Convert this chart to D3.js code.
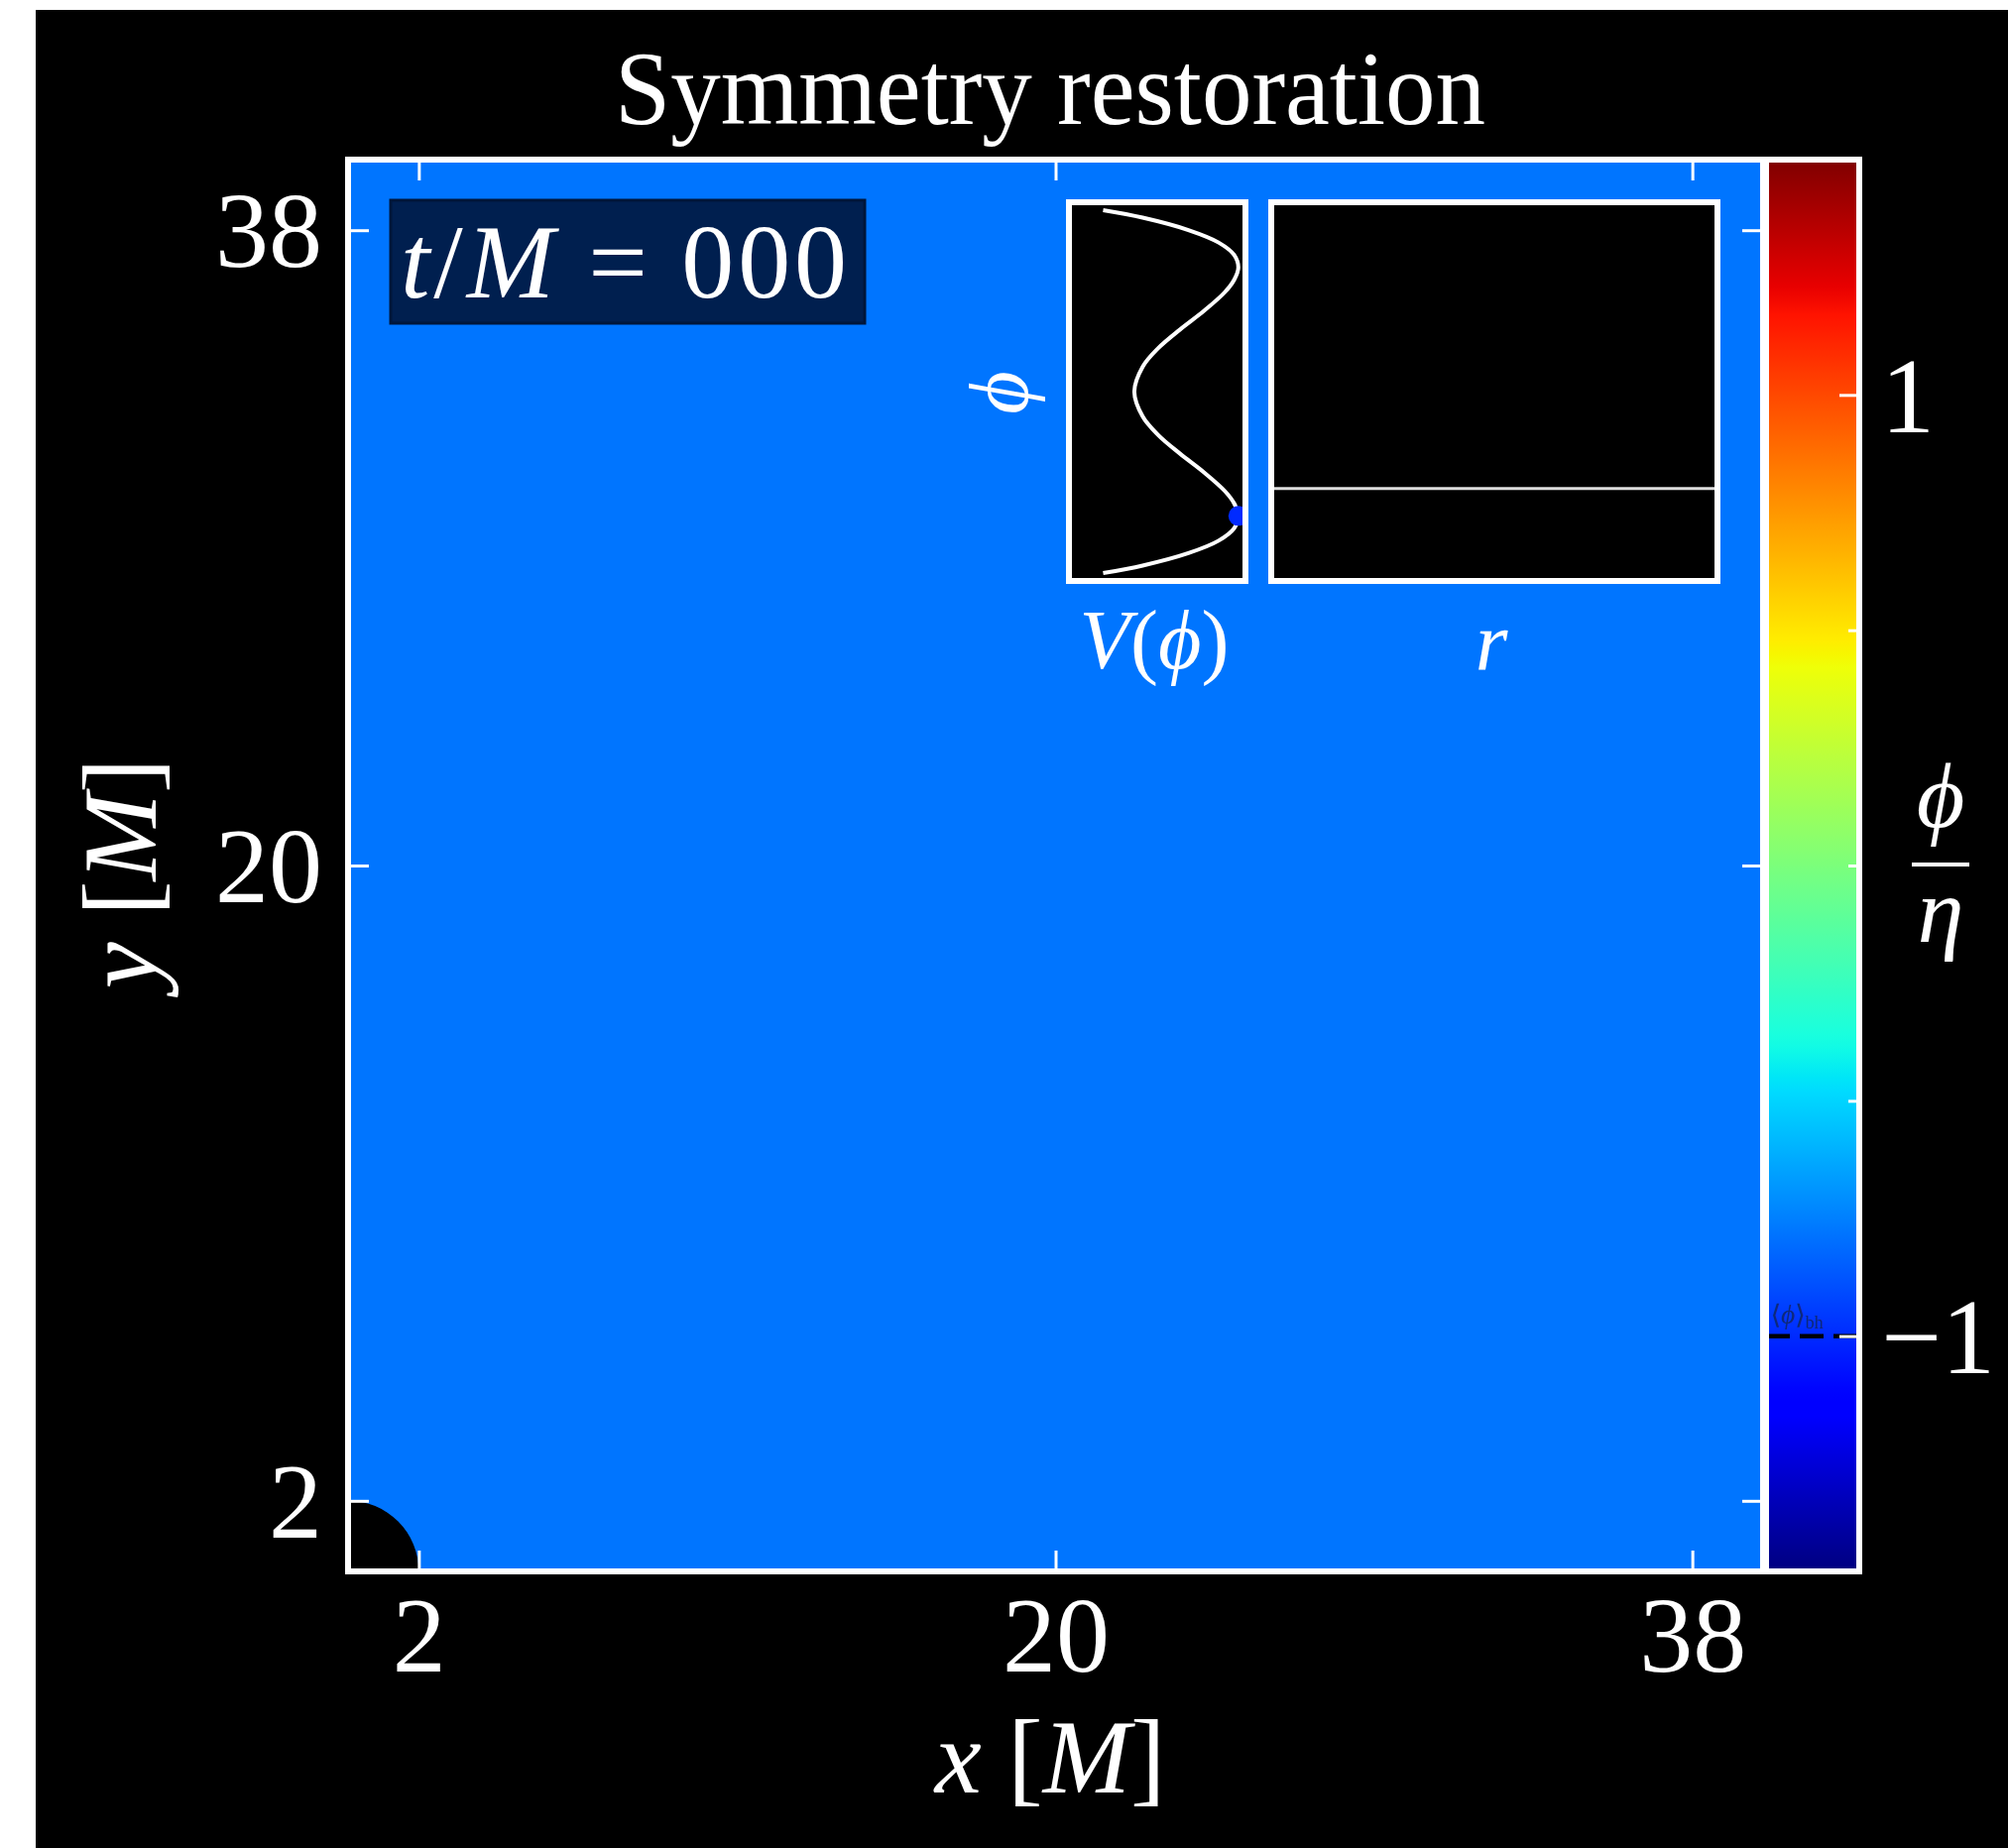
<!DOCTYPE html>
<html><head><meta charset="utf-8">
<script src="https://cdn.jsdelivr.net/npm/d3@7"></script>
<style>html,body{margin:0;padding:0;background:#fff;} svg{display:block;}</style>
</head><body><div id="chart"></div>
<script>
// ---------- data ----------
const title = "Symmetry restoration";
const timeValue = "000";
const xDomain = [0, 40];
const yDomain = [0, 40];
const xTicks = [2, 20, 38];
const yTicks = [2, 20, 38];
const horizonRadius = 2;
const fieldValue = -0.78;            // uniform phi/eta over the slice
const colorDomain = [-1.5, 1.5];
const cbarMajorTicks = [1, -1];
const cbarMinorTicks = [0.5, 0, -0.5];
const phiBH = -1;                    // <phi>_bh marker
const potentialPhi = [1.46, 1.40, 1.30, 1.20, 1.10, 1.00, 0.90, 0.80, 0.65, 0.50, 0.35, 0.20, 0.00,
                      -0.20, -0.35, -0.50, -0.65, -0.80, -0.90, -1.00, -1.10, -1.20, -1.30, -1.40, -1.46];
const potentialV   = [1.30, 0.92, 0.48, 0.19, 0.04, 0.00, 0.04, 0.13, 0.33, 0.56, 0.77, 0.92, 1.00,
                      0.92, 0.77, 0.56, 0.33, 0.13, 0.04, 0.00, 0.04, 0.19, 0.48, 0.92, 1.30];
const dotPhi = -1, dotV = 0;
const profileR = [2, 40];
const profilePhi = [-0.78, -0.78];

// ---------- colormap (jet) ----------
const jetR = [[0,0],[0.35,0],[0.66,1],[0.89,1],[1,0.5]];
const jetG = [[0,0],[0.125,0],[0.375,1],[0.64,1],[0.91,0],[1,0]];
const jetB = [[0,0.5],[0.11,1],[0.34,1],[0.65,0],[1,0]];
function chan(p, t){
  t = Math.max(0, Math.min(1, t));
  for (let i = 1; i < p.length; i++) {
    if (t <= p[i][0]) { const a = p[i-1], b = p[i]; return a[1] + (b[1]-a[1])*(t-a[0])/(b[0]-a[0]); }
  }
  return p[p.length-1][1];
}
function jet(t){ return d3.rgb(255*chan(jetR,t), 255*chan(jetG,t), 255*chan(jetB,t)).formatHex(); }
const tScale = d3.scaleLinear().domain(colorDomain).range([0,1]);
const colour = v => jet(tScale(v));

// ---------- svg ----------
const W = 2025, H = 1864;
const FONT = "'Liberation Serif', 'DejaVu Serif', serif";
const svg = d3.select("#chart").append("svg").attr("width", W).attr("height", H)
  .style("font-family", FONT);
svg.append("rect").attr("x", 0).attr("y", 0).attr("width", W).attr("height", H).attr("fill", "#fff");
svg.append("rect").attr("x", 36).attr("y", 10).attr("width", W-36).attr("height", H-10).attr("fill", "#000");

const P = {l: 351, r: 1778, t: 161, b: 1585};
const x = d3.scaleLinear().domain(xDomain).range([P.l, P.r]);
const y = d3.scaleLinear().domain(yDomain).range([P.b, P.t]);

const defs = svg.append("defs");
defs.append("clipPath").attr("id", "plotClip").append("rect")
  .attr("x", P.l).attr("y", P.t).attr("width", P.r-P.l).attr("height", P.b-P.t);

// field
const plot = svg.append("g").attr("clip-path", "url(#plotClip)");
plot.append("rect").attr("x", x(xDomain[0])).attr("y", y(yDomain[1]))
  .attr("width", x(xDomain[1]) - x(xDomain[0])).attr("height", y(yDomain[0]) - y(yDomain[1]))
  .attr("fill", colour(fieldValue));
plot.append("circle").attr("cx", x(0)).attr("cy", y(0))
  .attr("r", x(horizonRadius) - x(0)).attr("fill", "#000");

// axes (inward ticks)
function styleAxis(g){
  g.select(".domain").remove();
  g.selectAll(".tick line").attr("stroke", "#fff").attr("stroke-width", 3);
  g.selectAll(".tick text").attr("fill", "#fff").style("font-family", FONT).style("font-size", "108px");
}
const TL = 21;
svg.append("g").attr("transform", `translate(0,${P.b})`)
  .call(d3.axisBottom(x).tickValues(xTicks).tickSize(-TL).tickPadding(24).tickFormat(d3.format("d")))
  .call(styleAxis).call(g => g.selectAll(".tick text").attr("dy", "0.71em"));
svg.append("g").attr("transform", `translate(0,${P.t})`)
  .call(d3.axisTop(x).tickValues(xTicks).tickSize(-TL).tickFormat(""))
  .call(styleAxis);
svg.append("g").attr("transform", `translate(${P.l},0)`)
  .call(d3.axisLeft(y).tickValues(yTicks).tickSize(-TL).tickPadding(26).tickFormat(d3.format("d")))
  .call(styleAxis).call(g => g.selectAll(".tick text").attr("dy", "0.34em"));
svg.append("g").attr("transform", `translate(${P.r},0)`)
  .call(d3.axisRight(y).tickValues(yTicks).tickSize(-TL).tickFormat(""))
  .call(styleAxis);

// frame
svg.append("rect").attr("x", P.l).attr("y", P.t).attr("width", P.r-P.l).attr("height", P.b-P.t)
  .attr("fill", "none").attr("stroke", "#fff").attr("stroke-width", 6);

// ---------- colorbar ----------
const CB = {l: 1781, r: 1875, t: P.t, b: P.b};
const cy = d3.scaleLinear().domain(colorDomain).range([CB.b, CB.t]);
const grad = defs.append("linearGradient").attr("id", "cbGrad")
  .attr("x1", 0).attr("y1", 1).attr("x2", 0).attr("y2", 0);
d3.range(0, 1.0001, 0.01).forEach(t => {
  const v = colorDomain[0] + t*(colorDomain[1]-colorDomain[0]);
  grad.append("stop").attr("offset", t).attr("stop-color", colour(v));
});
svg.append("rect").attr("x", CB.l).attr("y", CB.t).attr("width", CB.r-CB.l).attr("height", CB.b-CB.t)
  .attr("fill", "url(#cbGrad)");
// <phi>_bh dashed line
svg.append("line").attr("x1", CB.l).attr("x2", CB.r).attr("y1", cy(phiBH)).attr("y2", cy(phiBH))
  .attr("stroke", "#000").attr("stroke-width", 4.5).attr("stroke-dasharray", "24 10");
svg.append("text").attr("x", CB.l + 5).attr("y", cy(phiBH) - 13)
  .attr("fill", "#10287a").style("font-size", "27px")
  .html('⟨<tspan font-style="italic">ϕ</tspan>⟩<tspan font-size="18px" dy="5">bh</tspan>');
// ticks
svg.append("g").attr("transform", `translate(${CB.r},0)`)
  .call(d3.axisRight(cy).tickValues(cbarMajorTicks).tickSize(-20).tickPadding(22)
    .tickFormat(d => d < 0 ? "\u2212" + Math.abs(d) : String(d)))
  .call(styleAxis).call(g => g.selectAll(".tick text").attr("dy", "0.34em"));
svg.append("g").attr("transform", `translate(${CB.r},0)`)
  .call(d3.axisRight(cy).tickValues(cbarMinorTicks).tickSize(-11).tickFormat(""))
  .call(styleAxis);
svg.append("rect").attr("x", CB.l).attr("y", CB.t).attr("width", CB.r-CB.l).attr("height", CB.b-CB.t)
  .attr("fill", "none").attr("stroke", "#fff").attr("stroke-width", 6);
// colorbar label phi / eta
svg.append("text").attr("x", 1957).attr("y", 834).attr("text-anchor", "middle")
  .attr("fill", "#fff").style("font-size", "94px").style("font-style", "italic").text("ϕ");
svg.append("line").attr("x1", 1928).attr("x2", 1986).attr("y1", 872).attr("y2", 872)
  .attr("stroke", "#fff").attr("stroke-width", 4);
svg.append("text").attr("x", 1957).attr("y", 950).attr("text-anchor", "middle")
  .attr("fill", "#fff").style("font-size", "94px").style("font-style", "italic").text("η");

// ---------- time box ----------
svg.append("rect").attr("x", 394).attr("y", 202).attr("width", 478).attr("height", 124)
  .attr("fill", "#001f4f").attr("stroke", "#00163a").attr("stroke-width", 3);
svg.append("text").attr("x", 404).attr("y", 300).attr("fill", "#fff").style("font-size", "106px")
  .attr("textLength", 450).attr("lengthAdjust", "spacing")
  .html(`<tspan font-style="italic">t</tspan>/<tspan font-style="italic">M</tspan> = ${timeValue}`);

// ---------- insets ----------
const IV = {l: 1078, r: 1256, t: 204, b: 586};
const IR = {l: 1282, r: 1732, t: 204, b: 586};
const iphi = d3.scaleLinear().domain(colorDomain).range([IV.b - 3, IV.t + 3]);
const iV = d3.scaleLinear().domain([-0.04, 1.6]).range([IV.r - 3, IV.l + 3]);
const ir = d3.scaleLinear().domain(profileR).range([IR.l, IR.r]);

svg.append("rect").attr("x", IV.l).attr("y", IV.t).attr("width", IV.r-IV.l).attr("height", IV.b-IV.t).attr("fill", "#000");
svg.append("rect").attr("x", IR.l).attr("y", IR.t).attr("width", IR.r-IR.l).attr("height", IR.b-IR.t).attr("fill", "#000");
defs.append("clipPath").attr("id", "ivClip").append("rect")
  .attr("x", IV.l).attr("y", IV.t).attr("width", IV.r-IV.l).attr("height", IV.b-IV.t);

const vg = svg.append("g").attr("clip-path", "url(#ivClip)");
const vline = d3.line().x((d, i) => iV(potentialV[i])).y(d => iphi(d)).curve(d3.curveCatmullRom);
vg.append("path").datum(potentialPhi).attr("d", vline).attr("fill", "none")
  .attr("stroke", "#fff").attr("stroke-width", 4);
vg.append("circle").attr("cx", iV(dotV)).attr("cy", iphi(dotPhi)).attr("r", 10).attr("fill", colour(dotPhi));

const rline = d3.line().x((d, i) => ir(profileR[i])).y(d => iphi(d));
svg.append("path").datum(profilePhi).attr("d", rline).attr("fill", "none")
  .attr("stroke", "#ddd").attr("stroke-width", 3);

[IV, IR].forEach(b => svg.append("rect").attr("x", b.l).attr("y", b.t).attr("width", b.r-b.l).attr("height", b.b-b.t)
  .attr("fill", "none").attr("stroke", "#fff").attr("stroke-width", 6));

svg.append("text").attr("x", 1164).attr("y", 674).attr("text-anchor", "middle").attr("fill", "#fff")
  .style("font-size", "84px")
  .html('<tspan font-style="italic">V</tspan>(<tspan font-style="italic">ϕ</tspan>)');
svg.append("text").attr("x", 1504).attr("y", 676).attr("text-anchor", "middle").attr("fill", "#fff")
  .style("font-size", "84px").style("font-style", "italic").text("r");
svg.append("text").attr("transform", "translate(1011,396) rotate(-90)").attr("text-anchor", "middle")
  .attr("dy", "0.3em").attr("fill", "#fff").style("font-size", "84px").style("font-style", "italic").text("ϕ");

// ---------- titles ----------
svg.append("text").attr("x", 1059).attr("y", 125).attr("text-anchor", "middle").attr("fill", "#fff")
  .style("font-size", "106px").attr("textLength", 878).attr("lengthAdjust", "spacingAndGlyphs").text(title);
svg.append("text").attr("x", 1059).attr("y", 1808).attr("text-anchor", "middle").attr("fill", "#fff")
  .style("font-size", "106px")
  .html('<tspan font-style="italic">x</tspan> [<tspan font-style="italic">M</tspan>]');
svg.append("text").attr("transform", "translate(157,881) rotate(-90)").attr("text-anchor", "middle").attr("fill", "#fff")
  .style("font-size", "106px")
  .html('<tspan font-style="italic">y</tspan> [<tspan font-style="italic">M</tspan>]');
</script>
</body></html>
